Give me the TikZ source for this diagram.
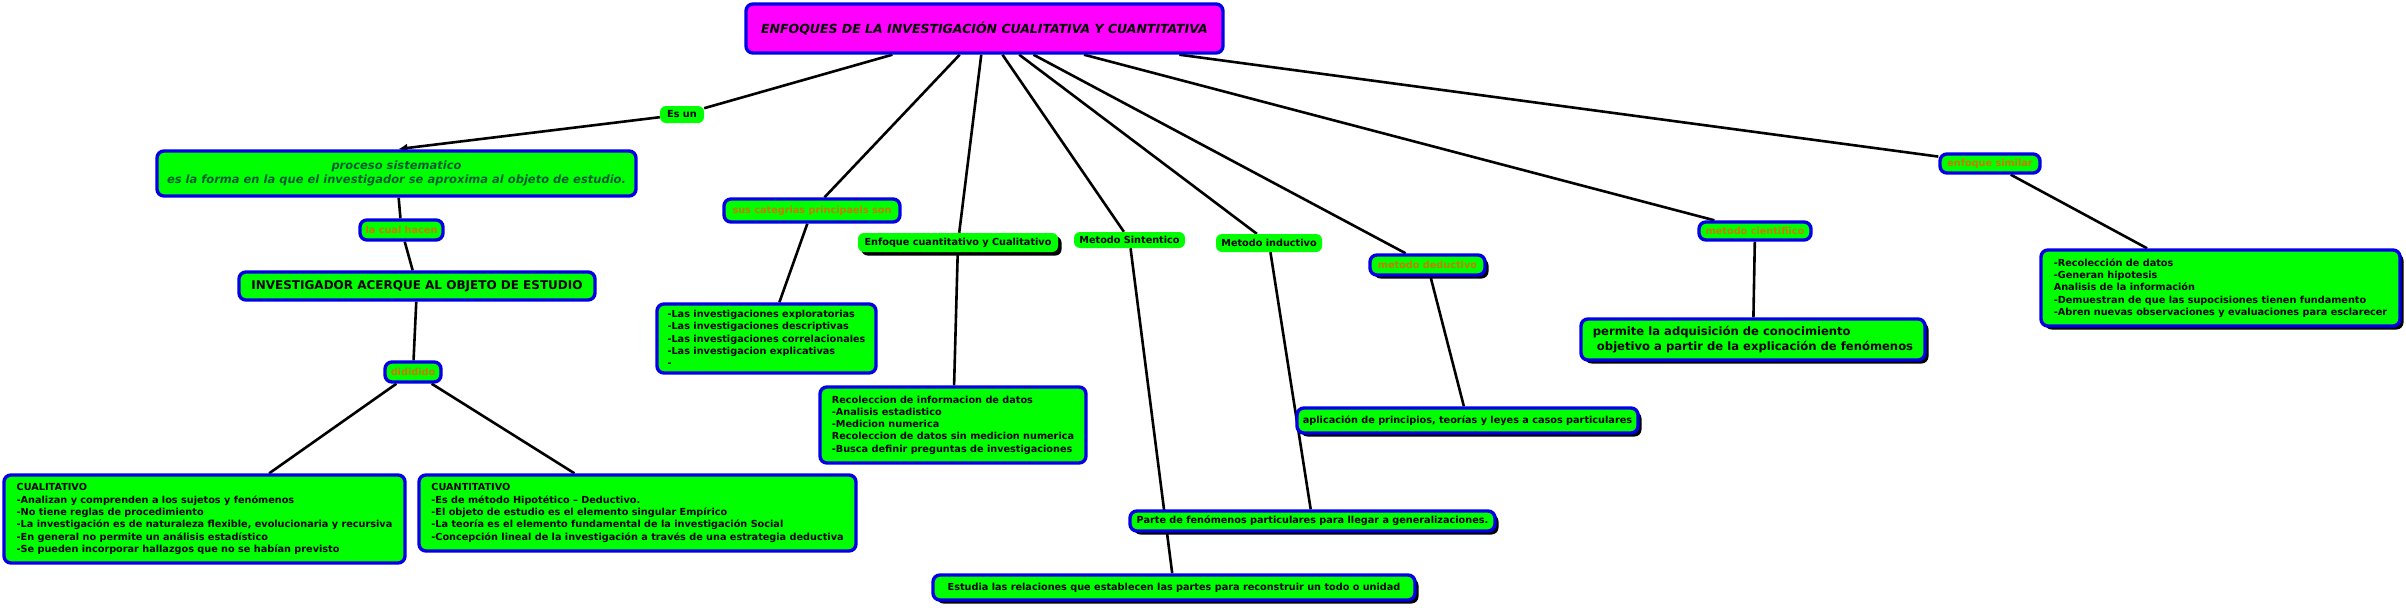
\documentclass[tikz,border=0pt]{standalone}
\usepackage{fontspec}
\setmainfont{DejaVu Sans}
\usepackage{tikz}
\usetikzlibrary{positioning,arrows.meta,shadows,backgrounds}
\definecolor{MapGreen}{RGB}{0,255,0}
\definecolor{MapBlue}{RGB}{0,0,230}
\definecolor{MapPink}{RGB}{255,0,255}
\definecolor{LinkOrange}{RGB}{205,120,0}
\definecolor{DeepGreen}{RGB}{0,90,55}
\newcommand{\mapfont}{\fontsize{9.7pt}{12.3pt}\selectfont\bfseries}
\newcommand{\mapmid}{\fontsize{11.6pt}{14.5pt}\selectfont\bfseries}
\newcommand{\mapbig}{\fontsize{12pt}{14.5pt}\selectfont\bfseries}

\begin{document}
\begin{tikzpicture}[x=1pt,y=-1pt,
box/.style={rectangle,rounded corners=7pt,draw=MapBlue,line width=3.4pt,fill=MapGreen,align=left,inner sep=3pt,font=\mapfont},
tag/.style={rectangle,rounded corners=6pt,fill=MapGreen,inner sep=1pt,font=\mapfont},
otag/.style={box,text=LinkOrange,align=center},
shade/.style={drop shadow={shadow xshift=3.5pt,shadow yshift=-3.5pt,fill=black,opacity=1}},
link/.style={line width=2.6pt,black},
arrow/.style={link,-{Latex[length=9pt,width=9pt]},shorten >=2pt}
]
\useasboundingbox (0,0) rectangle (2406,610);
% root
\node[box,fill=MapPink,minimum width=477pt,minimum height=49pt,align=center,font=\fontsize{12.5pt}{15pt}\selectfont\bfseries\itshape] (title) at (984.5,28.5) {ENFOQUES DE LA INVESTIGACIÓN CUALITATIVA Y CUANTITATIVA};
% left branch
\node[tag,minimum width=44pt,minimum height=17pt] (esun) at (682,114.5) {Es un};
\node[box,minimum width=479pt,minimum height=45pt,align=center,text=DeepGreen,font=\fontsize{11.5pt}{14.5pt}\selectfont\bfseries\itshape] (proc) at (396.5,173.5) {proceso sistematico\\es la forma en la que el investigador se aproxima al objeto de estudio.};
\node[otag,minimum width=83pt,minimum height=20pt] (cual) at (401.5,230) {la cual hacen};
\node[box,minimum width=356pt,minimum height=28pt,align=center,font=\mapbig] (inv) at (417,286) {INVESTIGADOR ACERQUE AL OBJETO DE ESTUDIO};
\node[otag,minimum width=56pt,minimum height=20pt] (divi) at (413,372) {dididido};
\node[box,minimum width=401pt,minimum height=88pt] (cuali) at (204.5,519) {CUALITATIVO\\-Analizan y comprenden a los sujetos y fenómenos\\-No tiene reglas de procedimiento\\-La investigación es de naturaleza flexible, evolucionaria y recursiva\\-En general no permite un análisis estadístico\\-Se pueden incorporar hallazgos que no se habían previsto};
\node[box,minimum width=437pt,minimum height=76pt] (cuanti) at (637.5,513) {CUANTITATIVO\\-Es de método Hipotético – Deductivo.\\-El objeto de estudio es el elemento singular Empírico\\-La teoría es el elemento fundamental de la investigación Social\\-Concepción lineal de la investigación a través de una estrategia deductiva};
% middle branches
\node[otag,minimum width=176pt,minimum height=23pt] (cat) at (812,210.5) {sus categrias principaels son};
\node[box,minimum width=219pt,minimum height=69pt] (tipos) at (766.5,338.5) {-Las investigaciones exploratorias\\-Las investigaciones descriptivas\\-Las investigaciones correlacionales\\-Las investigacion explicativas\\-};
\node[tag,shade,minimum width=200pt,minimum height=19pt] (enf) at (958,242.5) {Enfoque cuantitativo y Cualitativo};
\node[box,minimum width=266pt,minimum height=76pt] (recol) at (953,425) {Recoleccion de informacion de datos\\-Analisis estadistico\\-Medicion numerica\\Recoleccion de datos sin medicion numerica\\-Busca definir preguntas de investigaciones};
\node[tag,minimum width=111pt,minimum height=16pt] (sint) at (1129.5,240) {Metodo Sintentico};
\node[tag,minimum width=106pt,minimum height=18pt] (induc) at (1269,243) {Metodo inductivo};
\node[otag,shade,minimum width=115pt,minimum height=20pt] (deduc) at (1427.5,265) {metodo deductivo};
\node[box,shade,minimum width=341pt,minimum height=25pt] (aplic) at (1467.5,420.5) {aplicación de principios, teorías y leyes a casos particulares};
\node[box,shade,minimum width=365pt,minimum height=20pt] (parte) at (1312.5,521) {Parte de fenómenos particulares para llegar a generalizaciones.};
\node[box,shade,minimum width=482pt,minimum height=25pt] (estud) at (1174,587.5) {Estudia las relaciones que establecen las partes para reconstruir un todo o unidad};
% right branches
\node[otag,minimum width=112pt,minimum height=18pt] (cient) at (1755,231) {metodo cientifiico};
\node[box,shade,minimum width=344pt,minimum height=41pt,font=\mapmid] (perm) at (1753,339.5) {permite la adquisición de conocimiento\\\ objetivo a partir de la explicación de fenómenos};
\node[otag,minimum width=100pt,minimum height=19pt] (simil) at (1990,163.5) {enfoque similar};
\node[box,shade,minimum width=359pt,minimum height=76pt] (resum) at (2220.5,288) {-Recolección de datos\\-Generan hipotesis\\Analisis de la información\\-Demuestran de que las supocisiones tienen fundamento\\-Abren nuevas observaciones y evaluaciones para esclarecer};
% links
\begin{scope}[on background layer]
\draw[link] (title) -- (esun);
\draw[arrow] (esun) -- (proc.north);
\draw[link] (proc) -- (cual) -- (inv) -- (divi);
\foreach \n in {cuali,cuanti} \draw[link] (divi) -- (\n);
\foreach \n in {cat,enf,sint,induc,deduc,cient,simil} \draw[link] (title) -- (\n);
\draw[link] (cat) -- (tipos);
\draw[link] (enf) -- (recol);
\draw[link] (sint) -- (estud);
\draw[link] (induc) -- (parte);
\draw[link] (deduc) -- (aplic);
\draw[link] (cient) -- (perm);
\draw[link] (simil) -- (resum);
\end{scope}
\end{tikzpicture}
\end{document}
